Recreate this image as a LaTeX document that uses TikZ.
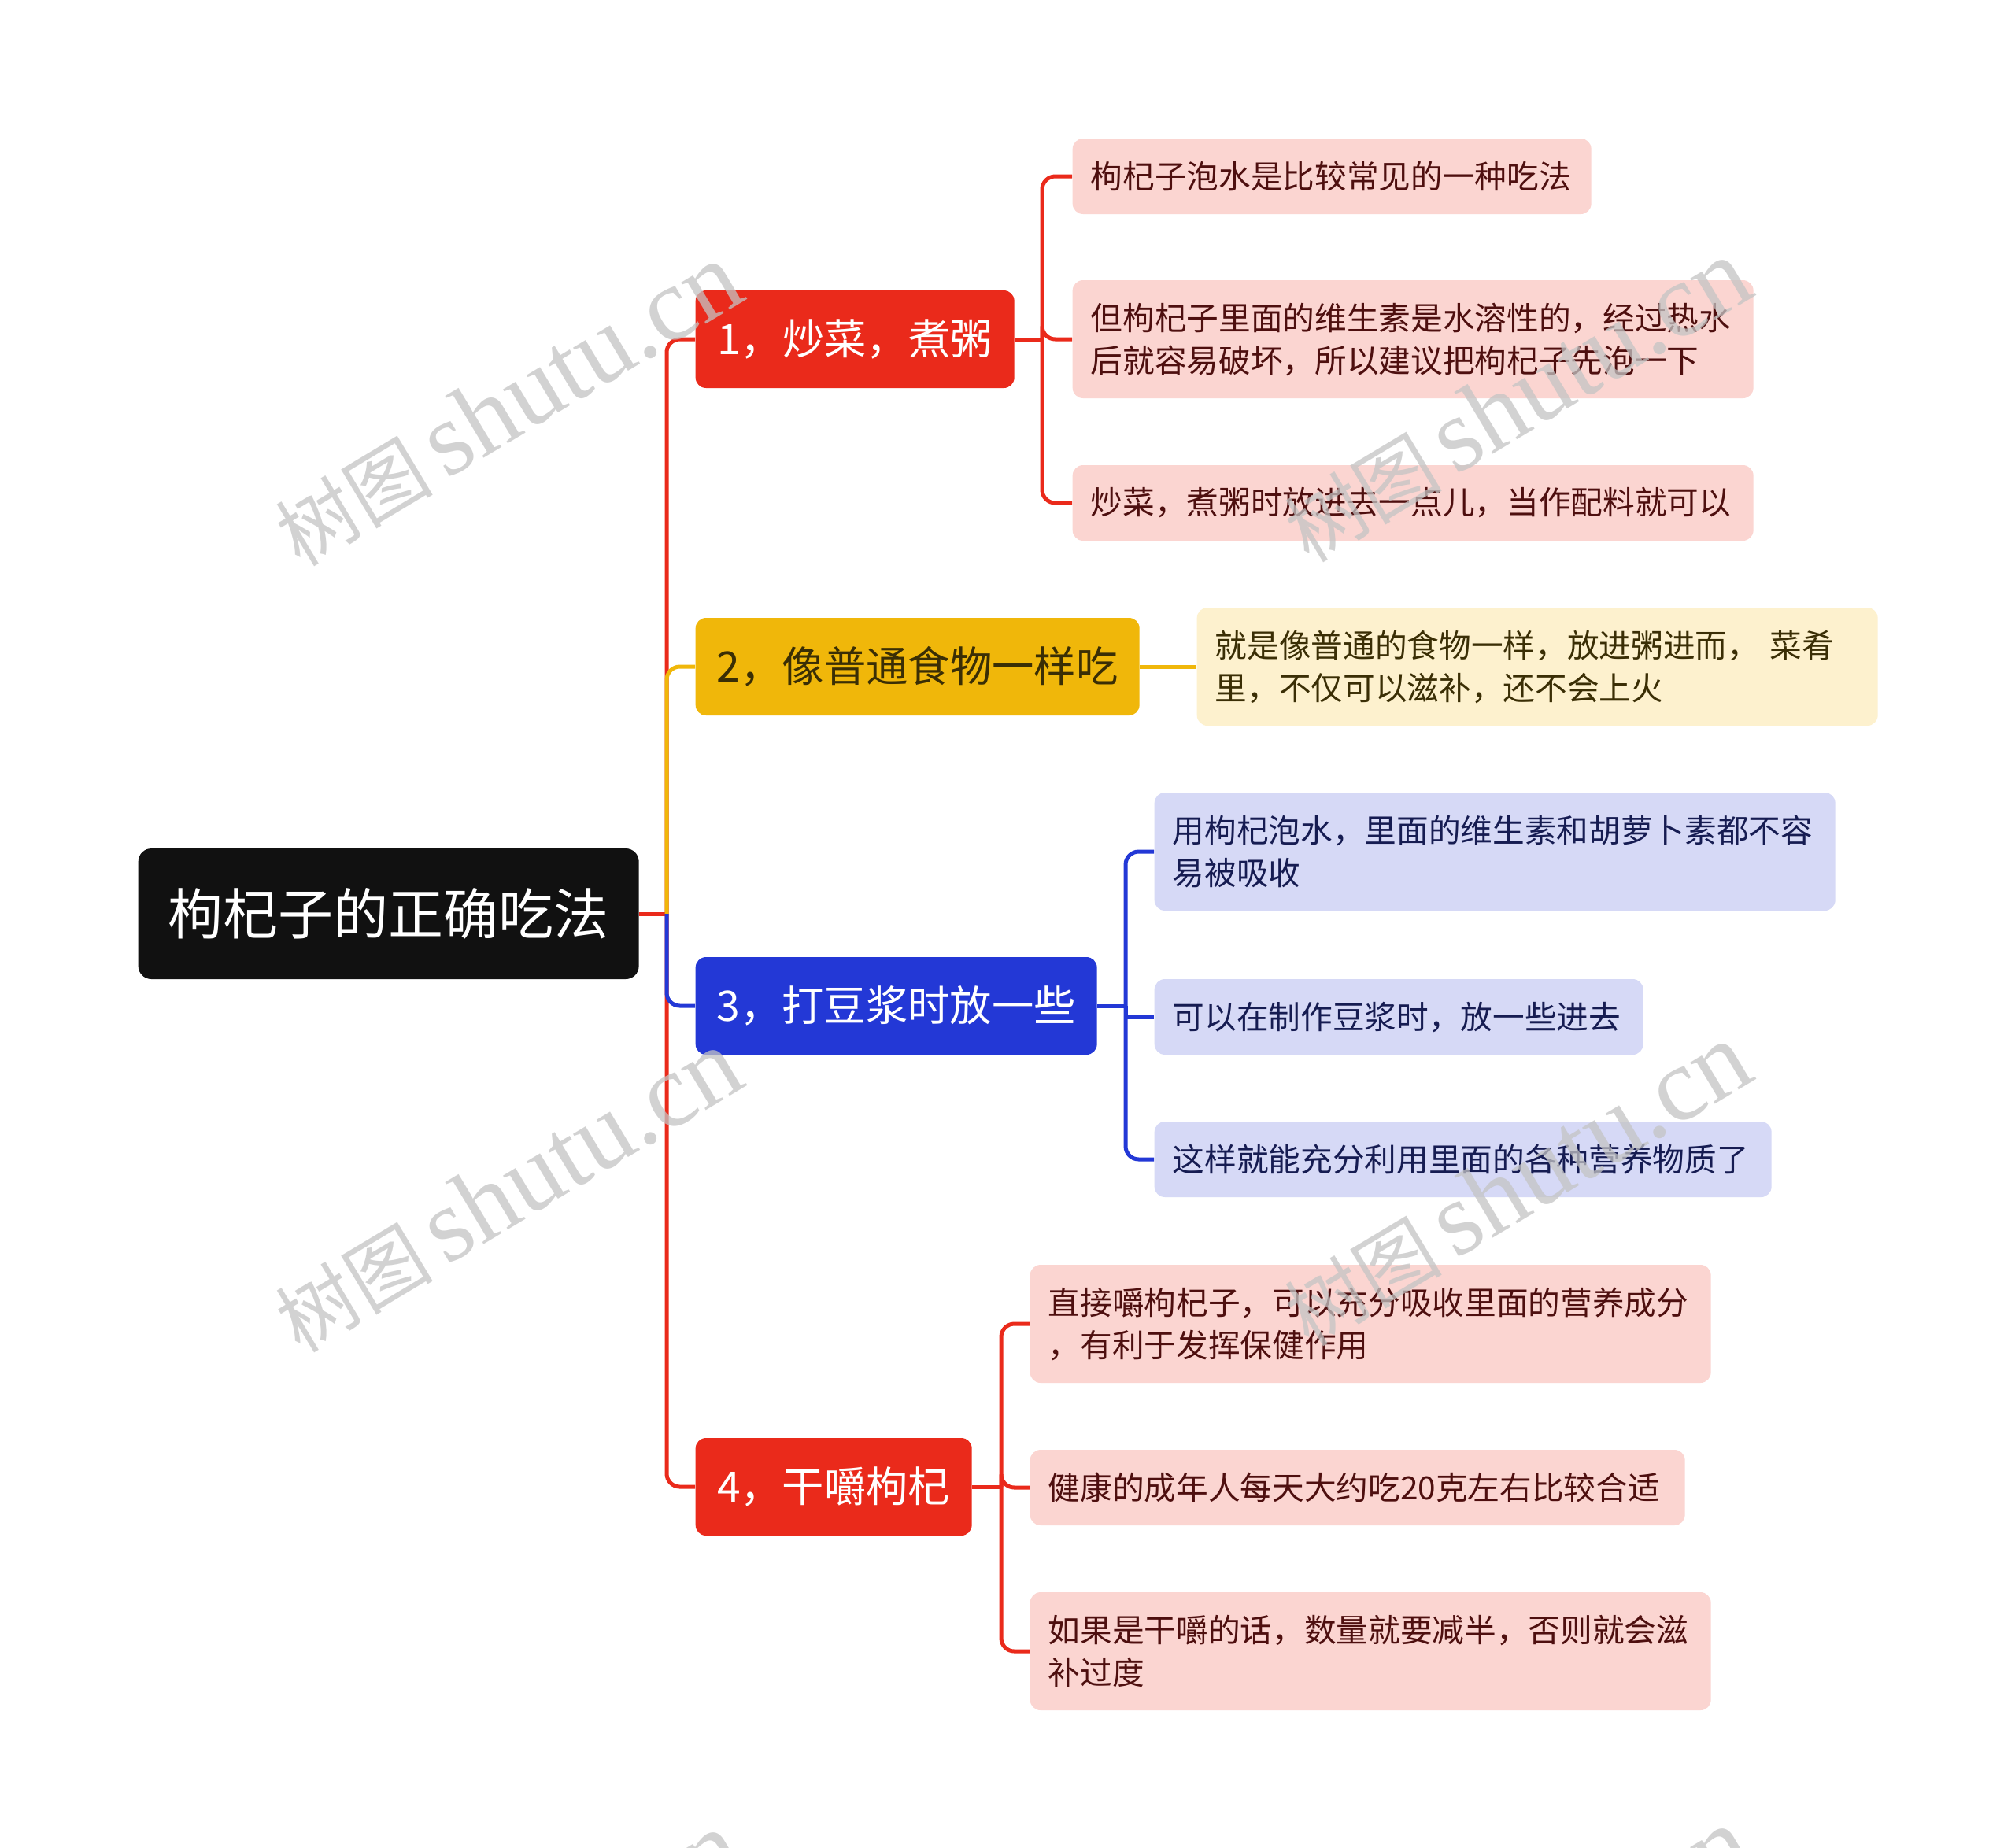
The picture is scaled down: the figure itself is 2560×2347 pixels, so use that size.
\documentclass[tikz,border=0pt]{standalone}
\usepackage{fontspec}
\setmainfont{Noto Sans CJK SC}
\newfontfamily\wmlatin{Liberation Serif}
\definecolor{cRed}{HTML}{EA2A1B}
\definecolor{cYel}{HTML}{F0B70A}
\definecolor{cBlue}{HTML}{2338D6}
\definecolor{cRoot}{HTML}{111111}
\definecolor{fPink}{HTML}{FBD5D1}
\definecolor{fYel}{HTML}{FDF1CE}
\definecolor{fBlue}{HTML}{D6D9F6}
\definecolor{tRed}{HTML}{4E0F0F}
\definecolor{tYel}{HTML}{3A2E05}
\definecolor{tBlue}{HTML}{161C52}
\definecolor{wmgray}{HTML}{C4C4C4}
\begin{document}
\begin{tikzpicture}[x=0.3pt,y=-0.3pt,
  leafbase/.style={rounded corners=4pt, anchor=west, inner xsep=6.9pt, inner ysep=0pt,
    align=left, font=\fontsize{12.2pt}{16.2pt}\selectfont},
  leafR/.style={leafbase, fill=fPink, text=tRed},
  leafY/.style={leafbase, fill=fYel, text=tYel},
  leafB/.style={leafbase, fill=fBlue, text=tBlue},
  oneline/.style={minimum height=28.8pt},
  twoline/.style={minimum height=45pt},
  branch/.style={rounded corners=4pt, anchor=west, inner xsep=0pt, inner ysep=0pt,
    minimum height=37.2pt, align=center, font=\fontsize{16pt}{19pt}\selectfont},
  rootbox/.style={rounded corners=5pt, fill=cRoot, text=white, anchor=west,
    minimum width=190.8pt, minimum height=49.8pt, inner sep=0pt,
    font=\fontsize{21pt}{25pt}\selectfont},
  conn/.style={line width=1.5pt, rounded corners=5pt},
  wm/.style={rotate=31, text=wmgray, text opacity=0.75, inner sep=0pt}
]
\useasboundingbox (0,0) rectangle (2560,2347);
\fill[white] (0,0) rectangle (2560,2347);

% root
\node[rootbox] (root) at (175,1161) {枸杞子的正确吃法};

% branches
\node[branch, fill=cRed, text=white, minimum width=121.5pt] (b1) at (883,431) {1，炒菜，煮粥};
\node[branch, fill=cYel, text=tYel, minimum width=169.2pt] (b2) at (883,847) {2，像普通食物一样吃};
\node[branch, fill=cBlue, text=white, minimum width=153pt] (b3) at (883,1278) {3，打豆浆时放一些};
\node[branch, fill=cRed, text=white, minimum width=105.3pt] (b4) at (883,1889) {4，干嚼枸杞};

% leaves of branch 1
\node[leafR, oneline, text width=183.9pt] (l1a) at (1362,224) {枸杞子泡水是比较常见的一种吃法};
\node[leafR, twoline, text width=245.7pt] (l1b) at (1362,431) {但枸杞子里面的维生素是水溶性的，经过热水\\后就容易破坏，所以建议把枸杞子先泡一下};
\node[leafR, oneline, text width=245.7pt] (l1c) at (1362,639) {炒菜，煮粥时放进去一点儿，当作配料就可以};

% leaf of branch 2
\node[leafY, twoline, text width=245.7pt] (l2) at (1520,847) {就是像普通的食物一样，放进粥进而，\ 菜肴\\里，不仅可以滋补，还不会上火};

% leaves of branch 3
\node[leafB, twoline, text width=245.7pt] (l3a) at (1466,1082) {用枸杞泡水，里面的维生素和胡萝卜素都不容\\易被吸收};
\node[leafB, oneline, text width=172.5pt] (l3b) at (1466,1292) {可以在制作豆浆时，放一些进去};
\node[leafB, oneline, text width=221.4pt] (l3c) at (1466,1473) {这样就能充分利用里面的各种营养物质了};

% leaves of branch 4
\node[leafR, twoline, text width=245.7pt] (l4a) at (1308,1682) {直接嚼枸杞子，可以充分吸收里面的营养成分\\，有利于发挥保健作用};
\node[leafR, oneline, text width=235.8pt] (l4b) at (1308,1890) {健康的成年人每天大约吃20克左右比较合适};
\node[leafR, twoline, text width=245.7pt] (l4c) at (1308,2098) {如果是干嚼的话，数量就要减半，否则就会滋\\补过度};

% junction coordinates
\coordinate (tr) at (847,1161);
\coordinate (j1) at (1324,431);
\coordinate (j3) at (1430,1278);
\coordinate (j4) at (1272,1889);

% root to branches
\draw[line width=1.5pt, cRed] (root.east) -- (tr);
\draw[conn, cRed] (tr) |- (b1.west);
\draw[conn, cRed] (tr) |- (b4.west);
\draw[conn, cYel] (tr) |- (b2.west);
\draw[conn, cBlue] (tr) |- (b3.west);

% branch 1 to leaves
\draw[line width=1.5pt, cRed] (b1.east) -- (j1);
\draw[conn, cRed] (j1) |- (l1a.west);
\draw[conn, cRed] (j1) |- (l1b.west);
\draw[conn, cRed] (j1) |- (l1c.west);

% branch 2 to leaf
\draw[line width=1.5pt, cYel] (b2.east) -- (l2.west);

% branch 3 to leaves
\draw[line width=1.5pt, cBlue] (b3.east) -- (j3);
\draw[conn, cBlue] (j3) |- (l3a.west);
\draw[line width=1.5pt, cBlue] (j3) |- (l3b.west);
\draw[conn, cBlue] (j3) |- (l3c.west);

% branch 4 to leaves
\draw[line width=1.5pt, cRed] (b4.east) -- (j4);
\draw[conn, cRed] (j4) |- (l4a.west);
\draw[conn, cRed] (j4) |- (l4b.west);
\draw[conn, cRed] (j4) |- (l4c.west);

% watermarks
\begin{scope}
\clip (0,0) rectangle (2560,2347);
\foreach \wx/\wy [count=\i] in {645/514, 645/1513, 645/2507, 1927/509, 1927/1505, 1927/2502}{
  \node[wm] (wm\i) at (\wx,\wy) {\fontsize{30pt}{32pt}\selectfont 树图\,{\wmlatin\fontsize{40pt}{42pt}\selectfont shutu.cn}};
}
\end{scope}
\end{tikzpicture}
\end{document}
